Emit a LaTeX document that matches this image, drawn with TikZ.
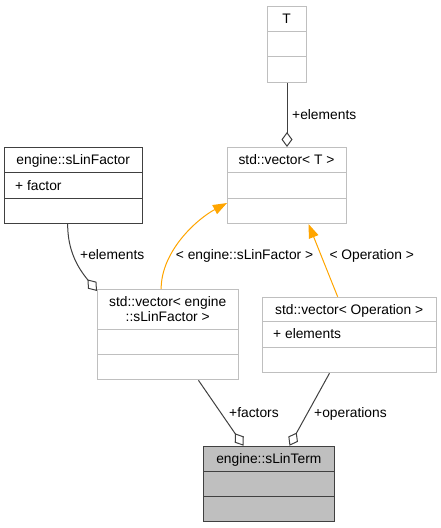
\documentclass[tikz,border=0pt]{standalone}
\usepackage{fontspec}
\setmainfont{Liberation Sans}
\usetikzlibrary{arrows.meta}
\definecolor{lgray}{HTML}{BFBFBF}
\definecolor{dgray}{HTML}{404040}
\definecolor{edgec}{HTML}{404040}
\definecolor{orng}{HTML}{FFA500}
\definecolor{termfill}{HTML}{BFBFBF}
\begin{document}
\begin{tikzpicture}[x=1pt,y=-1pt, font=\fontsize{13.8}{16}\selectfont,
  cls/.style={draw, rectangle, inner sep=0pt, anchor=north west, line width=1pt},
  undoc/.style={cls, draw=lgray},
  docd/.style={cls, draw=dgray},
  sepl/.style={line width=1pt},
  agg/.style={draw=edgec, line width=1pt, -{Diamond[open,length=15pt,width=11pt]}},
  inh/.style={draw=orng, line width=1pt, -{Triangle[length=14pt,width=10pt]}},
  lbl/.style={inner sep=0pt, anchor=base west},
  ttl/.style={inner sep=0pt, anchor=base}]
\useasboundingbox (0,0) rectangle (441,528);

% class T
\node[undoc, minimum width=39pt, minimum height=76.5pt] (T) at (267,5.5) {};
\draw[sepl, lgray] ([yshift=-25.5pt]T.north west) -- ([yshift=-25.5pt]T.north east);
\draw[sepl, lgray] ([yshift=-51pt]T.north west) -- ([yshift=-51pt]T.north east);
\node[ttl] (Tt) at (286.5,23) {T};

% std::vector< T >
\node[undoc, minimum width=119pt, minimum height=76pt] (vecT) at (227,147) {};
\draw[sepl, lgray] ([yshift=-25.5pt]vecT.north west) -- ([yshift=-25.5pt]vecT.north east);
\draw[sepl, lgray] ([yshift=-51pt]vecT.north west) -- ([yshift=-51pt]vecT.north east);
\node[ttl] (vecTt) at (286.5,164.5) {std::vector< T >};

% engine::sLinFactor
\node[docd, minimum width=137.7pt, minimum height=76pt] (slf) at (4.3,147) {};
\draw[sepl, dgray] ([yshift=-25.5pt]slf.north west) -- ([yshift=-25.5pt]slf.north east);
\draw[sepl, dgray] ([yshift=-51pt]slf.north west) -- ([yshift=-51pt]slf.north east);
\node[ttl] (slft) at (73.2,164.5) {engine::sLinFactor};
\node[lbl] (slfa) at (15,190) {+ factor};

% std::vector< engine::sLinFactor >
\node[undoc, minimum width=141.3pt, minimum height=90.3pt] (vecS) at (97,289) {};
\draw[sepl, lgray] ([yshift=-40.3pt]vecS.north west) -- ([yshift=-40.3pt]vecS.north east);
\draw[sepl, lgray] ([yshift=-65.3pt]vecS.north west) -- ([yshift=-65.3pt]vecS.north east);
\node[ttl] (vecSt1) at (167.7,306) {std::vector< engine};
\node[ttl] (vecSt2) at (167.7,321) {::sLinFactor >};

% std::vector< Operation >
\node[undoc, minimum width=173.7pt, minimum height=75.6pt] (vecO) at (262.3,296.7) {};
\draw[sepl, lgray] ([yshift=-25pt]vecO.north west) -- ([yshift=-25pt]vecO.north east);
\draw[sepl, lgray] ([yshift=-50.6pt]vecO.north west) -- ([yshift=-50.6pt]vecO.north east);
\node[ttl] (vecOt) at (349.2,314) {std::vector< Operation >};
\node[lbl] (vecOa) at (273,338) {+ elements};

% engine::sLinTerm
\node[docd, fill=termfill, minimum width=131pt, minimum height=75.3pt] (term) at (203.3,445.7) {};
\draw[sepl, dgray] ([yshift=-25.3pt]term.north west) -- ([yshift=-25.3pt]term.north east);
\draw[sepl, dgray] ([yshift=-51pt]term.north west) -- ([yshift=-51pt]term.north east);
\node[ttl] (termt) at (268.8,463.5) {engine::sLinTerm};

% connectors
\draw[agg] (T.south) -- (vecT.north);
\node[lbl] (l1) at (292,119) {+elements};

\draw[agg] ([xshift=-6pt]slf.south) .. controls +(0,27) and +(-19,-23) .. ([yshift=-2pt]vecS.north west);
\node[lbl] (l2) at (80,259) {+elements};

\draw[inh] ([xshift=-7pt]vecS.north) .. controls +(0,-38) and +(-30,16) .. ([yshift=21pt]vecT.south west);
\node[lbl] (l3) at (175.7,259) {< engine::sLinFactor >};

\draw[inh] ([xshift=-12pt]vecO.north) -- ([xshift=21.5pt]vecT.south);
\node[lbl] (l4) at (329.3,259) {< Operation >};

\draw[agg] ([xshift=30.3pt]vecS.south) -- ([xshift=-25.8pt]term.north);
\node[lbl] (l5) at (229,417) {+factors};

\draw[agg] ([xshift=-20.2pt]vecO.south) -- ([xshift=20.2pt]term.north);
\node[lbl] (l6) at (314,417) {+operations};
\end{tikzpicture}
\end{document}
